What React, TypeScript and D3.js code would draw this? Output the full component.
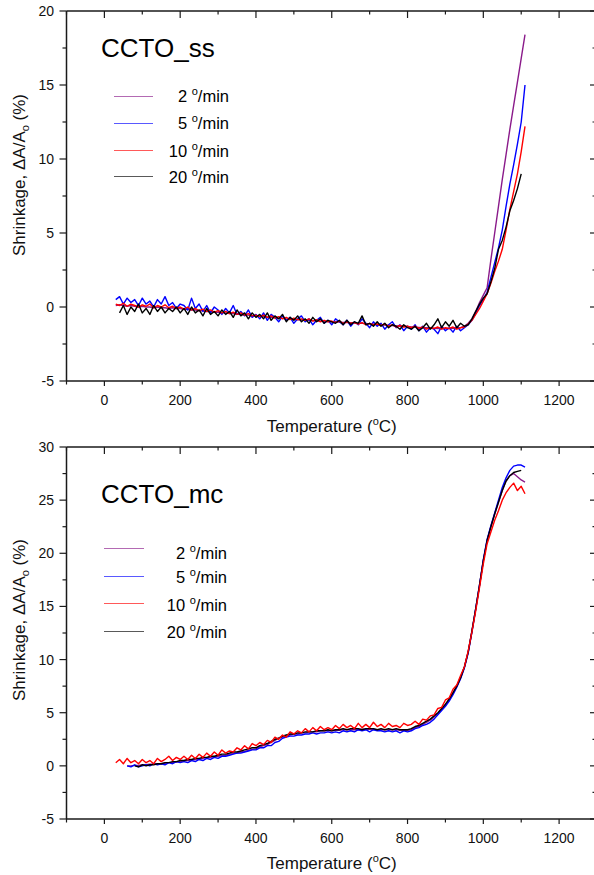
import React from "react";
import * as d3 from "d3";

// ---------- data ----------
const TEMPS: number[] = d3.range(30, 1111, 10); // 30..1110 °C, 10 °C grid

const RATE_LABELS = ["2", "5", "10", "20"];
const RATE_COLORS = ["#8a1a8a", "#0000ff", "#ff0000", "#000000"];

const X_MAJOR = [0, 200, 400, 600, 800, 1000, 1200];
const X_MINOR = [-100, 100, 300, 500, 700, 900, 1100, 1300];
const Y_MAJOR_SS = [-5, 0, 5, 10, 15, 20];
const Y_MINOR_SS = [-2.5, 2.5, 7.5, 12.5, 17.5];
const Y_MAJOR_MC = [-5, 0, 5, 10, 15, 20, 25, 30];
const Y_MINOR_MC = [-2.5, 2.5, 7.5, 12.5, 17.5, 22.5, 27.5];

// CCTO_ss (top)
const ss2 = [
  0.1, 0.15, 0.1, 0.05, 0.1, 0.05, 0.0, 0.05, 0.0, 0.0, -0.05, 0.0, -0.05, -0.05, -0.1, -0.05, -0.1, -0.1,
  -0.15, -0.15, -0.2, -0.2, -0.25, -0.25, -0.3, -0.3, -0.35, -0.35, -0.4, -0.4, -0.45, -0.45, -0.5, -0.5, -0.55, -0.55, -0.6, -0.6,
  -0.62, -0.65, -0.68, -0.7, -0.72, -0.75, -0.77, -0.8, -0.82, -0.84, -0.86, -0.88, -0.9, -0.9, -0.92, -0.94, -0.95, -0.96, -0.98, -1.0,
  -1.0, -1.02, -1.04, -1.05, -1.06, -1.08, -1.1, -1.1, -1.12, -1.14, -1.16, -1.18, -1.2, -1.22, -1.24, -1.26, -1.28, -1.3, -1.3, -1.32,
  -1.34, -1.36, -1.38, -1.4, -1.4, -1.42, -1.44, -1.45, -1.45, -1.46, -1.45, -1.44, -1.42, -1.4, -1.3, -1.1,
  -0.8, -0.3, 0.3, 0.8, 1.3, 3.2, 5.0, 6.8, 8.6, 10.3, 12.0, 13.6, 15.2, 16.8, 18.4,
];
const ss5 = [
  0.5, 0.7, 0.2, 0.6, 0.3, 0.5, 0.1, 0.6, 0.2, 0.4, 0.0, 0.5, 0.2, 0.7, 0.1, 0.3, -0.1, 0.2,
  0.1, -0.2, 0.6, -0.1, 0.2, -0.3, 0.1, -0.4, 0.0, -0.2, -0.5, -0.1, -0.4, 0.1, -0.5, -0.3, -0.6, -0.2, -0.7, -0.5,
  -0.8, -0.4, -0.9, -0.5, -0.7, -1.0, -0.6, -0.9, -0.7, -1.1, -0.8, -0.6, -1.0, -0.8, -1.2, -0.9, -0.7, -1.1, -0.9, -1.2,
  -0.8, -1.0, -1.2, -0.9, -1.3, -1.0, -1.2, -0.8, -1.1, -1.4, -1.0, -1.3, -1.1, -1.5, -1.2, -1.0, -1.4, -1.2, -1.6, -1.3,
  -1.5, -1.2, -1.6, -1.3, -1.7, -1.4, -1.5, -1.8, -1.3, -1.6, -1.4, -1.7, -1.3, -1.6, -1.4, -1.2,
  -0.9, -0.4, 0.1, 0.5, 1.0, 2.0, 3.0, 4.0, 5.2, 6.8, 8.3, 9.6, 11.0, 12.5, 15.0,
];
const ss10 = [
  0.2, 0.1, 0.25, 0.05, 0.2, 0.1, 0.0, 0.15, 0.05, 0.2, -0.05, 0.1, 0.0, 0.15, -0.05, 0.05, -0.1, 0.0,
  -0.15, 0.0, -0.2, -0.1, -0.25, -0.15, -0.3, -0.2, -0.35, -0.25, -0.4, -0.3, -0.45, -0.35, -0.5, -0.4, -0.55, -0.45, -0.6, -0.55,
  -0.65, -0.55, -0.7, -0.6, -0.75, -0.65, -0.8, -0.7, -0.85, -0.75, -0.85, -0.8, -0.9, -0.8, -0.95, -0.85, -1.0, -0.9, -1.0, -0.95,
  -1.05, -0.95, -1.1, -1.0, -1.1, -1.05, -1.15, -1.05, -1.2, -1.1, -1.2, -1.15, -1.25, -1.15, -1.3, -1.2, -1.35, -1.25, -1.35, -1.3,
  -1.4, -1.3, -1.45, -1.35, -1.5, -1.4, -1.45, -1.35, -1.5, -1.4, -1.45, -1.35, -1.5, -1.4, -1.35, -1.15,
  -0.9, -0.5, -0.1, 0.4, 0.9, 1.6, 2.4, 3.1, 3.9, 5.2, 6.6, 7.8, 9.0, 10.5, 12.2,
];
const ss20 = [
  null, -0.4, 0.1, -0.5, 0.0, -0.3, 0.2, -0.4, -0.1, -0.5, 0.1, -0.3, 0.0, -0.4, -0.1, -0.3, 0.0, -0.4,
  -0.1, -0.5, 0.0, -0.4, -0.2, -0.6, -0.1, -0.5, -0.3, -0.6, -0.2, -0.5, -0.3, -0.7, -0.2, -0.6, -0.4, -0.8, -0.4, -0.7,
  -0.5, -0.8, -0.4, -0.9, -0.6, -0.8, -0.5, -1.0, -0.7, -0.9, -0.6, -1.0, -0.8, -1.1, -0.7, -1.0, -0.8, -1.1, -0.9, -1.0,
  -1.1, -0.9, -1.2, -0.9, -1.2, -1.0, -1.1, -0.6, -1.2, -1.1, -1.3, -1.0, -1.3, -1.1, -1.4, -1.2, -1.3, -1.5, -1.2, -1.4,
  -1.5, -1.3, -1.6, -1.4, -1.1, -1.5, -1.2, -0.8, -1.4, -1.0, -1.3, -0.9, -1.4, -1.1, -1.3, -1.2,
  -0.8, -0.3, 0.2, 0.6, 0.9, 1.7, 2.6, 3.9, 4.5, 5.4, 6.5, 7.2, 8.0, 9.0, null,
];

// CCTO_mc (bottom)
const mc2 = [
  null, null, null,
  0.0, 0.0, 0.05, 0.05, 0.1, 0.1, 0.15, 0.15, 0.2, 0.2, 0.25, 0.3, 0.3, 0.35, 0.4,
  0.45, 0.5, 0.55, 0.6, 0.65, 0.7, 0.75, 0.8, 0.85, 0.9, 0.95, 1.0, 1.1, 1.15, 1.2, 1.3, 1.35, 1.45, 1.55, 1.6,
  1.8, 1.9, 2.0, 2.2, 2.4, 2.6, 2.7, 2.8, 2.9, 3.0, 3.0, 3.1, 3.1, 3.2, 3.2, 3.2, 3.3, 3.3, 3.3, 3.3,
  3.35, 3.35, 3.4, 3.4, 3.4, 3.4, 3.4, 3.45, 3.45, 3.45, 3.45, 3.4, 3.4, 3.4, 3.4, 3.4, 3.4, 3.35, 3.35, 3.35,
  3.4, 3.6, 3.7, 3.9, 4.1, 4.3, 4.6, 4.9, 5.3, 5.7, 6.2, 6.8, 7.5, 8.3, 9.3, 10.7,
  12.7, 14.8, 17.0, 19.3, 21.2, 22.5, 23.7, 24.8, 25.9, 26.8, 27.3, 27.5, 27.2, 26.9, 26.7,
];
const mc5 = [
  null, null, null,
  0.0, -0.1, 0.1, -0.1, 0.0, 0.1, 0.0, 0.2, 0.1, 0.2, 0.1, 0.3, 0.2, 0.4, 0.3,
  0.4, 0.3, 0.5, 0.4, 0.6, 0.5, 0.7, 0.6, 0.8, 0.7, 0.9, 0.9, 1.0, 1.1, 1.2, 1.2, 1.3, 1.4, 1.5, 1.5,
  1.7, 1.7, 1.9, 1.9, 2.2, 2.3, 2.6, 2.7, 2.8, 2.8, 2.9, 2.9, 3.0, 3.0, 3.1, 3.0, 3.1, 3.1, 3.2, 3.1,
  3.2, 3.1, 3.3, 3.2, 3.3, 3.2, 3.4, 3.3, 3.4, 3.2, 3.4, 3.3, 3.3, 3.2, 3.3, 3.2, 3.3, 3.1, 3.3, 3.2,
  3.3, 3.5, 3.6, 3.8, 3.9, 4.1, 4.4, 4.8, 5.2, 5.6, 6.1, 6.7, 7.4, 8.2, 9.2, 10.6,
  12.6, 14.8, 17.0, 19.4, 21.3, 22.6, 23.8, 25.0, 26.2, 27.1, 27.8, 28.2, 28.3, 28.3, 28.1,
];
const mc10 = [
  0.3, 0.6, 0.2, 0.7, 0.3, 0.5, 0.2, 0.6, 0.3, 0.5, 0.2, 0.7, 0.4, 0.6, 0.9, 0.5, 0.8, 0.6,
  0.9, 0.6, 1.0, 0.7, 1.1, 0.8, 1.2, 0.9, 1.3, 1.0, 1.5, 1.2, 1.4, 1.3, 1.7, 1.5, 1.9, 1.6, 2.1, 1.9,
  2.2, 2.0, 2.4, 2.2, 2.7, 2.5, 2.9, 2.7, 3.2, 3.0, 3.3, 3.1, 3.5, 3.2, 3.6, 3.3, 3.7, 3.4, 3.6, 3.4,
  3.8, 3.5, 3.9, 3.6, 3.8, 3.5, 4.0, 3.6, 3.9, 3.6, 4.1, 3.7, 3.9, 3.6, 4.0, 3.7, 3.8, 3.6, 4.0, 3.8,
  3.9, 4.2, 3.9, 4.4, 4.3, 4.7, 4.8, 5.4, 5.5, 6.2, 6.4, 7.2, 7.6, 8.5, 9.3, 10.8,
  12.6, 14.6, 16.8, 19.0, 20.9, 22.0, 23.1, 24.0, 25.0, 25.7, 26.2, 26.6, 25.9, 26.3, 25.6,
];
const mc20 = [
  null, null, null, null, null,
  0.0, -0.1, 0.1, 0.0, 0.1, 0.1, 0.2, 0.2, 0.3, 0.3, 0.4, 0.4, 0.5,
  0.5, 0.6, 0.6, 0.7, 0.7, 0.8, 0.8, 0.9, 0.9, 1.0, 1.1, 1.1, 1.2, 1.3, 1.3, 1.4, 1.5, 1.6, 1.7, 1.7,
  1.9, 2.0, 2.1, 2.3, 2.5, 2.6, 2.8, 2.9, 3.0, 3.0, 3.1, 3.1, 3.2, 3.2, 3.2, 3.3, 3.3, 3.3, 3.4, 3.3,
  3.4, 3.4, 3.5, 3.4, 3.5, 3.5, 3.5, 3.4, 3.5, 3.5, 3.5, 3.4, 3.5, 3.4, 3.5, 3.4, 3.5, 3.4, 3.4, 3.4,
  3.5, 3.7, 3.8, 4.0, 4.2, 4.4, 4.7, 5.0, 5.4, 5.8, 6.3, 6.9, 7.5, 8.3, 9.3, 10.7,
  12.7, 14.8, 17.0, 19.3, 21.2, 22.5, 23.7, 24.8, 25.9, 26.8, 27.3, 27.6, 27.7, 27.8, null,
];

// ---------- layout ----------
const W = 594;
const H = 875;
const X_LEFT = 66.5;
const X_RIGHT = 597;
const FONT = "'Liberation Sans', Arial, Helvetica, sans-serif";

type PanelProps = {
  title: string;
  series: (number | null)[][];
  order: number[];
  yDomain: [number, number];
  yTop: number;
  yBottom: number;
  yMajor: number[];
  yMinor: number[];
  titleBaseline: number;
  ylabelCenter: number;
  xlabelBaseline: number;
  legendLineX: [number, number];
  legendLineY: number[];
  legendTextX: number;
  legendTextY: number[];
};

function Panel(p: PanelProps) {
  const x = d3.scaleLinear().domain([-100, 1300]).range([X_LEFT, X_RIGHT]);
  const y = d3.scaleLinear().domain(p.yDomain).range([p.yBottom, p.yTop]);
  const line = d3
    .line<[number, number | null]>()
    .defined((d) => d[1] !== null)
    .x((d) => x(d[0]))
    .y((d) => y(d[1] as number));

  const axisColor = "#1a1a1a";
  return (
    <g>
      {/* curves */}
      {p.order.map((i) => (
        <path
          key={"c" + i}
          d={line(TEMPS.map((t, k) => [t, p.series[i][k]] as [number, number | null])) || ""}
          fill="none"
          stroke={RATE_COLORS[i]}
          strokeWidth={1.4}
          strokeLinejoin="round"
        />
      ))}

      {/* spines */}
      <g stroke={axisColor} strokeWidth={1.5} fill="none">
        <line x1={X_LEFT} x2={X_RIGHT} y1={p.yTop} y2={p.yTop} />
        <line x1={X_LEFT} x2={X_RIGHT} y1={p.yBottom} y2={p.yBottom} />
        <line x1={X_LEFT} x2={X_LEFT} y1={p.yTop} y2={p.yBottom} />
        <line x1={X_RIGHT} x2={X_RIGHT} y1={p.yTop} y2={p.yBottom} />
      </g>

      {/* ticks */}
      <g stroke={axisColor} strokeWidth={1.2}>
        {X_MAJOR.map((t) => (
          <g key={"xm" + t}>
            <line x1={x(t)} x2={x(t)} y1={p.yBottom} y2={p.yBottom + 5} />
            <line x1={x(t)} x2={x(t)} y1={p.yTop} y2={p.yTop + 7} />
          </g>
        ))}
        {X_MINOR.map((t) => (
          <g key={"xn" + t}>
            <line x1={x(t)} x2={x(t)} y1={p.yBottom} y2={p.yBottom + 3.5} />
            <line x1={x(t)} x2={x(t)} y1={p.yTop} y2={p.yTop + 3.5} />
          </g>
        ))}
        {p.yMajor.map((v) => (
          <g key={"ym" + v}>
            <line x1={X_LEFT - 7} x2={X_LEFT} y1={y(v)} y2={y(v)} />
            <line x1={X_RIGHT - 7} x2={X_RIGHT} y1={y(v)} y2={y(v)} />
          </g>
        ))}
        {p.yMinor.map((v) => (
          <g key={"yn" + v}>
            <line x1={X_LEFT - 4} x2={X_LEFT} y1={y(v)} y2={y(v)} />
            <line x1={X_RIGHT - 4.5} x2={X_RIGHT} y1={y(v)} y2={y(v)} />
          </g>
        ))}
      </g>

      {/* tick labels */}
      <g fontFamily={FONT} fontSize={14} fill="#111">
        {X_MAJOR.map((t) => (
          <text key={"xl" + t} x={x(t)} y={p.yBottom + 24} textAnchor="middle">
            {t}
          </text>
        ))}
        {p.yMajor.map((v) => (
          <text key={"yl" + v} x={54} y={y(v) + 5} textAnchor="end">
            {v}
          </text>
        ))}
      </g>

      {/* axis titles */}
      <text
        fontFamily={FONT}
        fontSize={17}
        fill="#111"
        textAnchor="middle"
        x={(X_LEFT + X_RIGHT) / 2}
        y={p.xlabelBaseline}
      >
        Temperature (
        <tspan fontSize={11} dy={-7}>
          o
        </tspan>
        <tspan dy={7}>C)</tspan>
      </text>
      <text
        fontFamily={FONT}
        fontSize={17}
        fill="#111"
        textAnchor="middle"
        transform={`translate(25,${p.ylabelCenter}) rotate(-90)`}
      >
        Shrinkage, ΔA/A
        <tspan fontSize={11} dy={4}>
          o
        </tspan>
        <tspan dy={-4}> (%)</tspan>
      </text>

      {/* legend */}
      <text fontFamily={FONT} fontSize={26} fill="#000" x={101} y={p.titleBaseline}>
        {p.title}
      </text>
      {RATE_LABELS.map((lab, i) => (
        <g key={"lg" + i}>
          <line
            x1={p.legendLineX[0]}
            x2={p.legendLineX[1]}
            y1={p.legendLineY[i]}
            y2={p.legendLineY[i]}
            stroke={RATE_COLORS[i]}
            strokeOpacity={0.65}
            strokeWidth={1}
          />
          <text
            fontFamily={FONT}
            fontSize={16.5}
            fill="#000"
            x={p.legendTextX}
            y={p.legendTextY[i]}
            textAnchor="end"
          >
            {lab + " "}
            <tspan fontSize={11} dy={-7}>
              o
            </tspan>
            <tspan dy={7}>/min</tspan>
          </text>
        </g>
      ))}
    </g>
  );
}

export default function App() {
  return (
    <svg
      width={W}
      height={H}
      viewBox={`0 0 ${W} ${H}`}
      style={{ position: "absolute", left: 0, top: 0, background: "#fff" }}
    >
      <rect x={0} y={0} width={W} height={H} fill="#fff" />
      <Panel
        title="CCTO_ss"
        series={[ss2, ss5, ss10, ss20]}
        order={[0, 1, 2, 3]}
        yDomain={[-5, 20]}
        yTop={11}
        yBottom={381}
        yMajor={Y_MAJOR_SS}
        yMinor={Y_MINOR_SS}
        titleBaseline={57}
        ylabelCenter={175}
        xlabelBaseline={432}
        legendLineX={[114, 153]}
        legendLineY={[96.5, 123.5, 150.5, 176.5]}
        legendTextX={229}
        legendTextY={[101.7, 129, 156.5, 182.7]}
      />
      <Panel
        title="CCTO_mc"
        series={[mc2, mc5, mc10, mc20]}
        order={[0, 1, 3, 2]}
        yDomain={[-5, 30]}
        yTop={447}
        yBottom={819}
        yMajor={Y_MAJOR_MC}
        yMinor={Y_MINOR_MC}
        titleBaseline={503}
        ylabelCenter={620}
        xlabelBaseline={869}
        legendLineX={[104, 144]}
        legendLineY={[548.5, 576.5, 603.5, 631.5]}
        legendTextX={227}
        legendTextY={[559, 583, 610.5, 637.5]}
      />
    </svg>
  );
}
